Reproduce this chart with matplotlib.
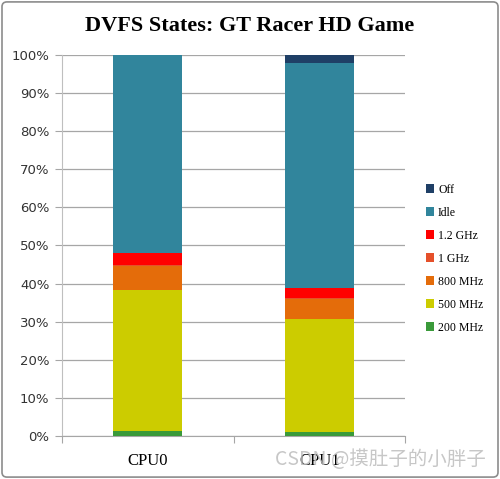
import matplotlib
matplotlib.use("Agg")
import matplotlib.pyplot as plt
from matplotlib.patches import FancyBboxPatch
import numpy as np

# data (percent of time in each state)
cpus = ["CPU0", "CPU1"]
states = ["200 MHz", "500 MHz", "800 MHz", "1 GHz", "1.2 GHz", "Idle", "Off"]
f200 = [1.3, 1.0]
f500 = [37.0, 29.6]
f800 = [6.4, 5.3]
f1000 = [0.3, 0.3]
f1200 = [3.1, 2.6]
idle = [51.9, 59.0]
off = [0.0, 2.2]
colors = ["#3A9A3A", "#CCCC00", "#E46C0A", "#E5502A", "#FF0000", "#31859C", "#1F3F66"]

series = [f200, f500, f800, f1000, f1200, idle, off]

fig = plt.figure(figsize=(5, 4.79), dpi=100)
ax = fig.add_axes([0.124, 0.0898, 0.686, 0.7954])

x = np.arange(len(cpus))
bottom = np.zeros(len(cpus))
for name, vals, c in zip(states, series, colors):
    ax.bar(x, vals, width=0.4, bottom=bottom, color=c, label=name, zorder=3)
    bottom += np.array(vals)

ax.set_xlim(-0.5, 1.5)
ax.set_ylim(0, 100)
ax.set_yticks(np.arange(0, 101, 10))
ax.set_yticklabels([f"{v}%" for v in range(0, 101, 10)], fontsize=9.5,
                   family="DejaVu Sans", color="#333333")
ax.yaxis.grid(True, color="#A6A6A6", linewidth=0.9, zorder=0)
ax.tick_params(axis="y", length=5, color="#A6A6A6", pad=4)

# category labels, ticks between categories
ax.set_xticks([-0.5, 0.5, 1.5])
ax.set_xticklabels([])
ax.tick_params(axis="x", length=5, color="#A6A6A6")
ax.set_xticks(x, minor=True)
ax.set_xticklabels(cpus, minor=True, fontsize=12, family="Liberation Serif")
ax.tick_params(axis="x", which="minor", length=0, pad=12)

for s in ["top", "right"]:
    ax.spines[s].set_visible(False)
ax.spines["left"].set_color("#BFBFBF")
ax.spines["bottom"].set_color("#A6A6A6")

fig.suptitle("DVFS States: GT Racer HD Game", x=0.5, y=0.967, fontsize=16,
             fontweight="bold", family="Liberation Serif")

h, l = ax.get_legend_handles_labels()
leg = fig.legend(h[::-1], l[::-1], loc="center left", bbox_to_anchor=(0.83, 0.46),
                 frameon=False, handlelength=0.7, handleheight=0.7,
                 handletextpad=0.35, labelspacing=0.93,
                 prop={"family": "Liberation Serif", "size": 8.5})

# outer border of the chart
fig.patches.append(FancyBboxPatch((0.004, 0.004), 0.992, 0.992,
                                  boxstyle="round,pad=0,rounding_size=0.01",
                                  transform=fig.transFigure, fill=False,
                                  edgecolor="#8C8C8C", linewidth=1.2))

fig.text(0.55, 0.04, "CSDN @摸肚子的小胖子", ha="left", va="center", fontsize=14,
         color="#BDBDBD", family=["Noto Sans CJK SC", "DejaVu Sans"], alpha=0.85)

fig.savefig("out.png", dpi=100)
